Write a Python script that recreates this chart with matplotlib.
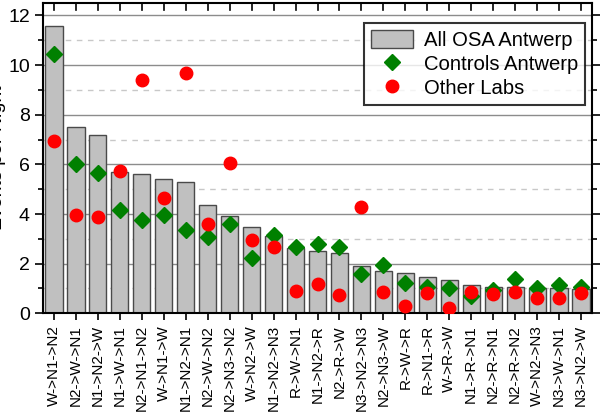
import numpy as np
import matplotlib.pyplot as plt
from matplotlib.ticker import MultipleLocator

plt.rcParams["font.family"] = ["Liberation Sans", "DejaVu Sans"]

transitions = [
    "W->N1->N2", "N2->W->N1", "N1->N2->W", "N1->W->N1", "N2->N1->N2",
    "W->N1->W", "N1->N2->N1", "N2->W->N2", "N2->N3->N2", "W->N2->W",
    "N1->N2->N3", "R->W->N1", "N1->N2->R", "N2->R->W", "N3->N2->N3",
    "N2->N3->W", "R->W->R", "R->N1->R", "W->R->W", "N1->R->N1",
    "N2->R->N1", "N2->R->N2", "W->N2->N3", "N3->W->N1", "N3->N2->W",
]
all_osa = [
    11.56, 7.52, 7.19, 5.71, 5.62, 5.40, 5.28, 4.37, 3.90, 3.48,
    3.12, 2.62, 2.51, 2.42, 1.91, 1.69, 1.63, 1.45, 1.34, 1.15,
    1.07, 1.05, 1.01, 1.00, 0.99,
]
controls = [
    10.46, 6.02, 5.65, 4.17, 3.74, 3.96, 3.36, 3.09, 3.59, 2.22,
    3.15, 2.68, 2.81, 2.67, 1.60, 1.95, 1.22, 1.05, 1.01, 0.68,
    0.94, 1.37, 1.01, 1.14, 1.07,
]
other_labs = [
    6.96, 3.96, 3.86, 5.74, 9.38, 4.66, 9.70, 3.60, 6.07, 2.94,
    2.66, 0.89, 1.18, 0.74, 4.27, 0.86, 0.28, 0.83, 0.20, 0.87,
    0.78, 0.87, 0.60, 0.60, 0.82,
]

x = np.arange(len(transitions))

fig = plt.figure(figsize=(6.01, 4.17), dpi=100)
ax = fig.add_axes([43 / 601, (417 - 313.3) / 417, 549 / 601, 310.3 / 417])

bars = ax.bar(x, all_osa, width=0.78, color="#c0c0c0", edgecolor="#4a4a4a",
              linewidth=1.0, label="All OSA Antwerp", zorder=2)
ctrl, = ax.plot(x, controls, linestyle="none", marker="D", markersize=7.8,
                color="#008000", label="Controls Antwerp", zorder=3)
labs, = ax.plot(x, other_labs, linestyle="none", marker="o", markersize=9,
                color="#ff0000", label="Other Labs", zorder=4)

ax.set_xlim(-0.5, len(transitions) - 0.5)
ax.set_ylim(0, 12.5)
ax.yaxis.set_major_locator(MultipleLocator(2))
ax.yaxis.set_minor_locator(MultipleLocator(1))
ax.set_xticks(x)
ax.set_xticklabels(transitions, rotation=90, fontsize=11)

ax.set_axisbelow(True)
ax.grid(True, which="major", axis="y", color="#8c8c8c", linewidth=1.0)
ax.grid(True, which="minor", axis="y", color="#c8c8c8", linewidth=1.0,
        linestyle=(0, (4, 4)))

ax.tick_params(axis="y", which="both", direction="out", left=True, right=True,
               labelsize=14, width=1.2)
ax.tick_params(axis="y", which="major", length=6)
ax.tick_params(axis="y", which="minor", length=3.5)
ax.tick_params(axis="x", which="major", length=5, width=1.2, bottom=True, top=False)
ax.tick_params(axis="x", which="minor", bottom=False, top=False)
# short inward ticks along the top edge
for xi in x:
    ax.plot([xi, xi], [12.5, 12.5 - 0.27], color="black", linewidth=1.2,
            clip_on=False, zorder=5)

for spine in ax.spines.values():
    spine.set_linewidth(1.5)

ax.set_ylabel("Events per Night", fontsize=14)
ax.yaxis.set_label_coords(-37 / 549, 0.5)

leg = ax.legend([bars, ctrl, labs],
                ["All OSA Antwerp", "Controls Antwerp", "Other Labs"],
                loc="upper right", bbox_to_anchor=(0.987, 0.9355), fontsize=14.6,
                frameon=True, fancybox=False, edgecolor="black",
                handlelength=2.1, handleheight=0.95, handletextpad=0.5,
                borderpad=0.35, labelspacing=0.22, borderaxespad=0)
leg.get_frame().set_linewidth(1.5)

fig.savefig("out.png", dpi=100)
